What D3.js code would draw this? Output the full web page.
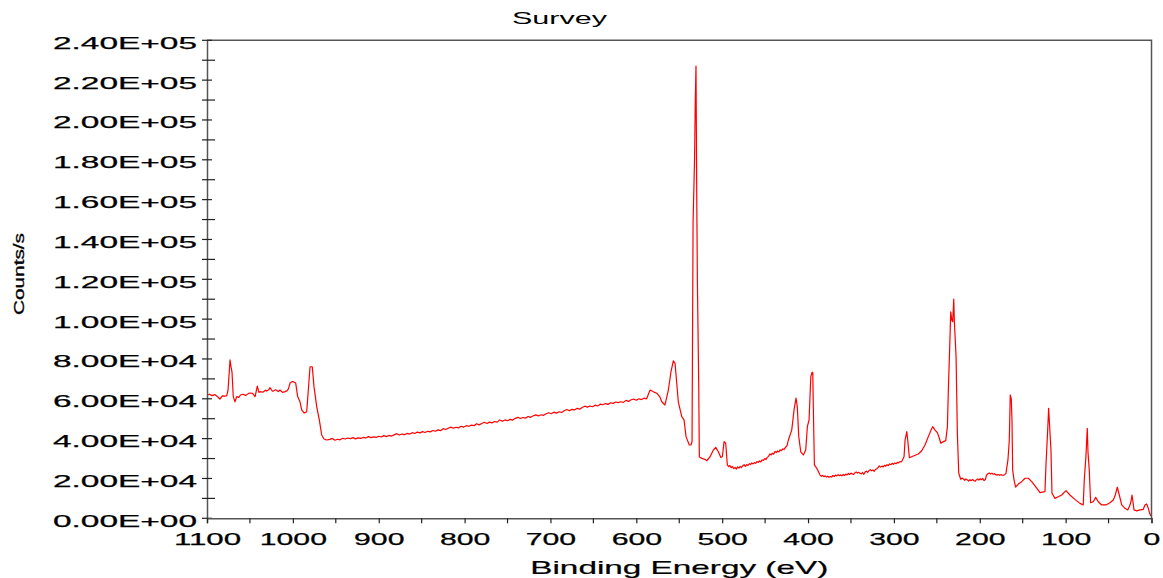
<!DOCTYPE html>
<html><head><meta charset="utf-8">
<script src="https://cdn.jsdelivr.net/npm/d3@7/dist/d3.min.js"></script>
<style>
body{margin:0;background:#fff}
text{font-family:"Liberation Sans",Arial,Helvetica,sans-serif;fill:#000}
</style>
</head><body>
<svg id="chart" width="1163" height="578"></svg>
<script>
const chartTitle = "Survey";
const xAxisTitle = "Binding Energy (eV)";
const yAxisTitle = "Counts/s";
const xTickValues = [1100,1000,900,800,700,600,500,400,300,200,100,0];
const xMinorTicks = [1050,950,850,750,650,550,450,350,250,150,50];
const yTickValues = [0,20000,40000,60000,80000,100000,120000,140000,160000,180000,200000,220000,240000];
const yMinorTicks = [10000,30000,50000,70000,90000,110000,130000,150000,170000,190000,210000,230000];

const bindingEnergy = [
1100,1097,1094,1091,1088,1085,1082,1079,1077,1075.5,1074,1073.2,1072,1070.9,1069.4,1067.4,1065.4,1063,1061,1058,1055,1052,1050,1047,1044,1041.4,1039.5,1038.3,1035,1032,1030.5,1028,1026.6,1024,1022.8,1020,1017,1015,1012,1009.2,1007,1005.3,1003.3,1001,999.5,996.7,994.4,991.7,989.7,987,985,983.9,982,980,977.4,975.4,972.2,969.2,966.4,963.7,960.6,
957,954,951,948,945,942,939,936,933,930,927,924,921,918,915,912,909,906,903,900,897,894,891,888,885,882,879,876,873,870,867,864,861,858,855,852,849,846,843,840,837,834,831,828,825,822,819,816,813,810,807,804,801,798,795,792,789,786,783,780,777,774,771,768,765,762,759,756,753,750,747,744,741,738,735,732,729,726,723,720,717,714,711,708,705,702,699,696,693,690,687,684,681,678,675,672,669,666,663,660,657,654,651,648,645,642,639,636,633,630,627,624,621,618,615,612,609,606,603,600,597,594,591,588,
584,580,576.2,572.4,570.4,566.6,562.7,559.6,556.9,554.9,552.9,551.1,547.1,544.4,542.1,538.3,536.3,535.1,533.9,532.2,531.3,530.5,529.6,528.9,528.1,527.3,526.6,523.8,520,518,514.1,510.3,507.5,504.5,501.7,499.8,497.8,495.9,
494,492.5,491,489.5,488,486.5,485,483.5,482,480.5,479,477.5,476,474.5,473,471.5,470,468.5,467,465.5,464,462.5,461,459.5,458,456.5,455,453.5,452,450.5,449,447.5,446,444.5,443,441.5,440,438.5,437,435.5,434,432.5,431,429.5,428,426.8,424.5,
422.9,419,416.3,414,412.5,410.8,408.5,405.5,402.7,400.8,398.8,396.8,395.3,394.5,393.8,392.6,389.8,
386,384.5,383,381.5,380,378.5,377,375.5,374,372.5,371,369.5,368,366.5,365,363.5,362,360.5,359,357.5,356,354.5,353,351.5,350,348.5,347,345.5,344,342.5,341,339.5,338,336.5,335,333.5,332,330.5,329,327.5,326,324.5,323,321.5,320,318.5,317,315.5,314,312.5,311,309.5,308,306.5,305,303.5,302,300.5,299,297.5,296,294.5,293,291.5,290.5,
288.2,287,285,283.9,282,277.4,271.6,267.6,263.8,259.9,256.7,254.8,252.1,249.4,247.1,245.4,242.4,239.6,237.7,236.6,235,233.8,232.6,231.5,230.3,229.6,227.6,226.1,224.5,
222.2,220.5,219,217.5,216,214.5,213,211.5,210,208.5,207,205.5,204,202.5,201,199.5,198,196.5,195,193.5,192,190.5,189,187.5,186,184.5,183,181.5,180,178.5,177,175.5,174,172.5,171,169.5,
167.2,165.6,164.5,163.3,162.5,161.7,160.1,158.2,155.1,151.2,147.3,143.5,139.5,133.7,129.9,124.1,122.9,120.9,119.8,118.6,117.1,115.9,112.4,108.6,104.6,99.6,95,89.2,83.3,79.5,78.3,76.4,74.8,74,72.5,70.9,67.8,65,62,58.1,53,48.4,44.5,42.2,39.8,37.5,34.7,30.9,27.7,25.9,23.9,22.7,21.6,20.4,17.3,13.4,9.6,7.6,5.6,3.7,2.1,0.9
];
const countsPerSecond = [
61900,62300,61600,62100,61200,59900,61500,61300,61600,64400,74000,79500,76000,73500,61100,58500,61100,60700,61900,62300,61700,62600,62900,62700,61100,66400,63200,63600,63300,64300,63900,64600,65600,63900,63900,64500,63700,64400,63200,63600,64000,64900,67900,68600,68600,67900,61100,58500,54400,52900,53200,53500,64400,76100,76100,66100,56000,49400,41800,39800,39300,
39600,40100,39200,39700,39400,40200,39800,40300,40000,40500,39900,40400,40100,40600,40300,41000,40500,40900,40600,41200,40800,41500,41000,41600,41300,41900,42500,41800,42300,42000,42600,42300,43000,42600,43300,42900,43500,43100,43700,43400,44100,43700,44400,44000,45000,44600,45200,45800,45200,45700,45400,46200,45800,46500,46200,46800,46500,47500,46900,47600,48200,47600,48300,47900,48600,48300,49400,48700,49400,49000,49700,49300,50200,50700,50100,50600,50300,51100,50700,51500,51900,51400,52000,51700,52500,53000,52500,53300,52800,53500,53100,54000,54600,54000,54700,54400,55200,54800,55600,56300,55800,56400,56000,56800,56400,57300,57000,57600,57200,58000,57700,58400,58100,58500,58200,59200,58700,59500,59900,59300,60000,59600,60300,60000,
64400,63500,62800,60800,58500,56900,64400,73600,79100,77800,67800,58500,51000,49400,41000,36800,36800,38500,148300,179900,210000,227100,160000,119700,93000,65900,30800,30100,29600,28900,30900,34300,35600,33400,30600,30900,38500,37700,
26800,25900,26500,25400,26000,24900,25600,24700,25800,25200,26100,25500,26400,26900,26100,27000,26500,27400,27000,27800,27300,28000,27600,28500,28100,28800,28300,29300,29000,30000,29500,30600,31100,32300,31800,32700,32200,33500,33000,33800,33300,34400,34000,34900,34500,35300,36500,
39300,44300,54400,60300,56000,41000,33400,31800,34300,46000,49400,71100,73300,73300,54400,26800,25100,
21700,21100,21500,20900,21300,20700,21100,20600,21000,20700,21500,21000,21700,21300,21900,21400,21800,21300,22000,21500,22200,21800,22500,22000,22700,22300,22000,22800,23300,22700,23100,22600,22300,23000,22100,23200,23700,23100,24000,24400,23800,24300,23600,24500,24900,25400,26300,25700,26200,25800,26600,26200,26900,26500,27300,26900,27600,27100,27800,27400,28100,27800,28500,28300,28900,
30900,39300,43500,39300,30400,31300,32300,33900,36800,41000,44300,46000,44300,43000,40200,37700,38500,39000,46000,64400,86200,103700,99600,98700,110000,98700,81100,42700,22600,
19600,20200,19700,19100,19800,19300,18700,19400,18900,19500,19000,18600,19300,19800,19200,19900,19400,20000,18900,19500,21800,22400,22700,22300,22600,22100,22400,21900,21700,22000,21600,21900,21700,21600,21900,22600,
29300,39300,61900,59800,49400,24300,19200,15600,17200,18400,20100,20100,18400,15100,12900,13400,26800,44300,55200,46000,34300,12600,10000,10800,11700,13900,11700,9500,7500,6700,19200,30900,45200,33400,24300,7800,8300,10500,8300,6700,6700,7800,9200,11700,15600,11700,6700,5000,4200,5800,8300,11700,8300,4200,3700,4200,4500,6700,7200,5000,2500,1200
];

const svg = d3.select("#chart");
const pLeft = 207, pRight = 1151.5, pTop = 40.3, pBottom = 518.3;
const x = d3.scaleLinear().domain([1100, 0]).range([pLeft, pRight]);
const y = d3.scaleLinear().domain([0, 240000]).range([pBottom, pTop]);

function sci(v){
  const [m, e] = v.toExponential(2).split("e");
  const sign = e[0] === "-" ? "-" : "+";
  const digits = e.replace(/[+-]/, "").padStart(2, "0");
  return m + "E" + sign + digits;
}

// data line
const pts = bindingEnergy.map((b, i) => [b, countsPerSecond[i]]);
svg.append("path")
  .datum(pts)
  .attr("fill", "none")
  .attr("stroke", "#ff0000")
  .attr("stroke-width", 1.2)
  .attr("stroke-linejoin", "round")
  .attr("d", d3.line().x(d => x(d[0])).y(d => y(d[1])));

// frame (top, right)
svg.append("path")
  .attr("d", `M${pLeft},${pTop}H${pRight}V${pBottom}`)
  .attr("fill", "none").attr("stroke", "#555").attr("stroke-width", 1.5);

// y axis
const yAxis = svg.append("g").attr("transform", `translate(${pLeft},0)`)
  .call(d3.axisLeft(y).tickValues(yTickValues).tickFormat(sci).tickSize(0).tickPadding(10));
yAxis.select(".domain").attr("stroke", "#555").attr("stroke-width", 1.5);
yAxis.selectAll(".tick line").remove();
yAxis.selectAll(".tick text")
  .attr("font-size", 17).attr("dy", "8px")
  .attr("stroke", "#000").attr("stroke-width", 0.25)
  .attr("textLength", 144).attr("lengthAdjust", "spacingAndGlyphs");
svg.append("g").selectAll("line").data(yTickValues).join("line")
  .attr("x1", pLeft - 5).attr("x2", pLeft + 5)
  .attr("y1", d => y(d)).attr("y2", d => y(d))
  .attr("stroke", "#222").attr("stroke-width", 1.2);
svg.append("g").selectAll("line").data(yMinorTicks).join("line")
  .attr("x1", pLeft - 5).attr("x2", pLeft + 8)
  .attr("y1", d => y(d)).attr("y2", d => y(d))
  .attr("stroke", "#222").attr("stroke-width", 1.2);

// x axis
const xAxis = svg.append("g").attr("transform", `translate(0,${pBottom})`)
  .call(d3.axisBottom(x).tickValues(xTickValues).tickFormat(d3.format("d")).tickSize(5));
xAxis.select(".domain").attr("stroke", "#555").attr("stroke-width", 1.5);
xAxis.selectAll(".tick line").attr("stroke", "#222").attr("stroke-width", 1.2);
xAxis.selectAll(".tick text")
  .attr("font-size", 16.3).attr("y", 26.7).attr("dy", 0)
  .attr("stroke", "#000").attr("stroke-width", 0.25)
  .attr("textLength", d => String(d).length * 16.8).attr("lengthAdjust", "spacingAndGlyphs");
svg.append("g").selectAll("line").data(xMinorTicks).join("line")
  .attr("x1", d => x(d)).attr("x2", d => x(d))
  .attr("y1", pBottom).attr("y2", pBottom + 5)
  .attr("stroke", "#222").attr("stroke-width", 1.2);

// titles
svg.append("text").attr("x", 559.5).attr("y", 24).attr("text-anchor", "middle")
  .attr("font-size", 16.5).attr("textLength", 95).attr("lengthAdjust", "spacingAndGlyphs")
  .text(chartTitle);
svg.append("text").attr("x", (pLeft + pRight) / 2).attr("y", 574).attr("text-anchor", "middle")
  .attr("font-size", 17.7).attr("textLength", 298).attr("lengthAdjust", "spacingAndGlyphs")
  .attr("stroke", "#000").attr("stroke-width", 0.2)
  .text(xAxisTitle);
svg.append("text").attr("transform", "translate(24,274) rotate(-90)").attr("text-anchor", "middle")
  .attr("font-size", 15).attr("textLength", 82).attr("lengthAdjust", "spacingAndGlyphs")
  .attr("stroke", "#000").attr("stroke-width", 0.3)
  .text(yAxisTitle);
</script>
</body></html>
